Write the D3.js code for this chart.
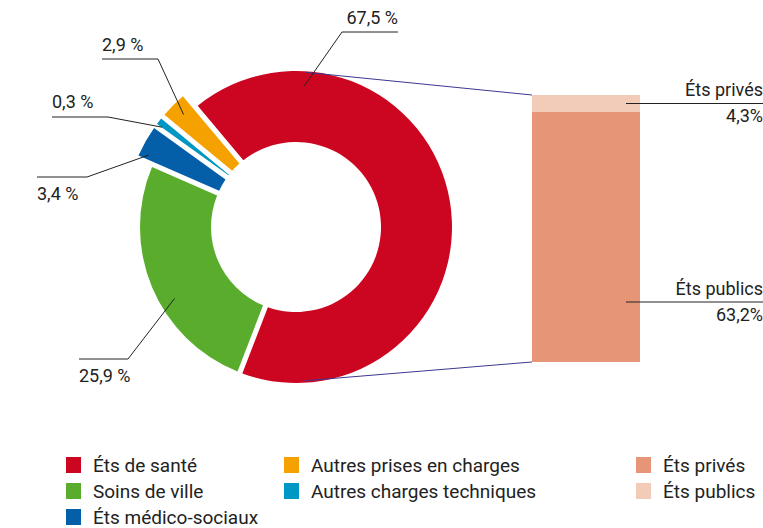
<!DOCTYPE html>
<html>
<head>
<meta charset="utf-8">
<script src="https://cdn.jsdelivr.net/npm/d3@7"></script>
<style>
  body { margin: 0; background: #fff; }
  svg { display: block; font-family: Roboto, "Noto Sans", sans-serif; }
</style>
</head>
<body>
<script>
// donut data (clockwise from the big slice)
const categories = ["Éts de santé", "Soins de ville", "Éts médico-sociaux", "Autres charges techniques", "Autres prises en charges"];
const shares = [67.5, 25.9, 3.4, 0.3, 2.9];
const colors = ["#cc0621", "#5aac2c", "#045ea8", "#0097c4", "#f5a100"];

// split of "Éts de santé" shown in the bar
const barLabels = ["Éts privés", "Éts publics"];
const barValues = [4.3, 63.2];
const barColors = ["#f2cbb9", "#e69577"];

// legend entries
const legendNames = ["Éts de santé", "Soins de ville", "Éts médico-sociaux", "Autres prises en charges", "Autres charges techniques", "Éts privés", "Éts publics"];
const legendColors = ["#cc0621", "#5aac2c", "#045ea8", "#f5a100", "#0097c4", "#e69577", "#f2cbb9"];

const width = 763, height = 528;
const cx = 296, cy = 227;
const rIn = 85, rOut = 156, rOutSmall = 173;
const rad = Math.PI / 180;
const fmt = v => v.toFixed(1).replace(".", ",");

const svg = d3.select("body").append("svg")
  .attr("width", width)
  .attr("height", height);

// pie layout, tiny slices get a minimum angle so they stay visible
const pie = d3.pie()
  .sort(null)
  .value(d => Math.max(d.v, 1.1))
  .startAngle(-40 * rad)
  .endAngle(320 * rad);

const arcs = pie(shares.map((v, i) => ({v, i})));

const arc = d3.arc()
  .innerRadius(rIn)
  .outerRadius(d => d.data.v < 5 ? rOutSmall : rOut)
  .padAngle(0.033)
  .padRadius(rOut);

const g = svg.append("g").attr("transform", `translate(${cx},${cy})`);

g.selectAll("path.slice")
  .data(arcs)
  .enter()
  .append("path")
  .attr("class", "slice")
  .attr("d", arc)
  .attr("fill", d => colors[d.data.i]);

// bar of the hospital split
const barX = 532, barW = 108;
const yBar = d3.scaleLinear()
  .domain([0, d3.sum(barValues)])
  .range([95, 362]);

let acc = 0;
const stack = barValues.map((v, i) => {
  const s = {i, v, y0: acc, y1: acc + v};
  acc += v;
  return s;
});

svg.selectAll("rect.seg")
  .data(stack)
  .enter()
  .append("rect")
  .attr("class", "seg")
  .attr("x", barX)
  .attr("y", d => yBar(d.y0))
  .attr("width", barW)
  .attr("height", d => yBar(d.y1) - yBar(d.y0))
  .attr("fill", d => barColors[d.i]);

// connectors from donut to bar
const polar = (a, r) => [cx + r * Math.sin(a * rad), cy - r * Math.cos(a * rad)];
const topPt = polar(3.3, rOut - 1), botPt = polar(176.8, rOut - 2);
svg.append("line")
  .attr("x1", topPt[0]).attr("y1", topPt[1])
  .attr("x2", barX).attr("y2", yBar(0))
  .attr("stroke", "#3d3890").attr("stroke-width", 1);
svg.append("line")
  .attr("x1", botPt[0]).attr("y1", botPt[1])
  .attr("x2", barX).attr("y2", yBar(d3.sum(barValues)))
  .attr("stroke", "#3d3890").attr("stroke-width", 1);

// bar labels
const barLabelPos = [0.5, 0.76];   // where the leader sits inside each segment
stack.forEach((s, k) => {
  const ly = yBar(s.y0) + (yBar(s.y1) - yBar(s.y0)) * barLabelPos[k];
  svg.append("line")
    .attr("x1", 626).attr("x2", width)
    .attr("y1", ly).attr("y2", ly)
    .attr("stroke", "#222").attr("stroke-width", 1);
  svg.append("text")
    .attr("x", 763).attr("y", ly - 7.5)
    .attr("text-anchor", "end")
    .attr("font-size", 18).attr("fill", "#222")
    .text(barLabels[k]);
  svg.append("text")
    .attr("x", 763).attr("y", ly + 18.5)
    .attr("text-anchor", "end")
    .attr("font-size", 18).attr("fill", "#222")
    .text(fmt(s.v) + "%");
});

// percent labels around the donut: pointer (angle, radius), elbow, line end, text
const labelLayout = [
  {a: 3.3,   r: 141, elbow: [342, 32],  end: [398, 32],  tx: 398, ty: 24,  anchor: "end"},
  {a: 239.5, r: 141, elbow: [128, 359], end: [79, 359],  tx: 79,  ty: 382, anchor: "start"},
  {a: 296,   r: 164, elbow: [87, 177],  end: [37, 177],  tx: 37,  ty: 200, anchor: "start"},
  {a: 306.7, r: 167, elbow: [108, 117], end: [52, 117],  tx: 52,  ty: 108, anchor: "start"},
  {a: 315,   r: 159, elbow: [158, 59],  end: [102, 59],  tx: 102, ty: 51,  anchor: "start"}
];

labelLayout.forEach((L, i) => {
  const p = polar(L.a, L.r);
  svg.append("polyline")
    .attr("points", [p, L.elbow, L.end].map(q => q.join(",")).join(" "))
    .attr("fill", "none")
    .attr("stroke", "#222")
    .attr("stroke-width", 1);
  svg.append("text")
    .attr("x", L.tx).attr("y", L.ty)
    .attr("text-anchor", L.anchor)
    .attr("font-size", 18).attr("fill", "#222")
    .text(fmt(shares[i]) + " %");
});

// legend
const legendCols = [[0, 1, 2], [3, 4], [5, 6]];
const colX = [66, 284, 636];
legendCols.forEach((col, c) => {
  col.forEach((idx, r) => {
    const y = 457 + r * 26;
    svg.append("rect")
      .attr("x", colX[c]).attr("y", y)
      .attr("width", 15).attr("height", 16)
      .attr("fill", legendColors[idx]);
    svg.append("text")
      .attr("x", colX[c] + 27).attr("y", y + 14.5)
      .attr("font-size", 19).attr("fill", "#222")
      .text(legendNames[idx]);
  });
});
</script>
</body>
</html>
